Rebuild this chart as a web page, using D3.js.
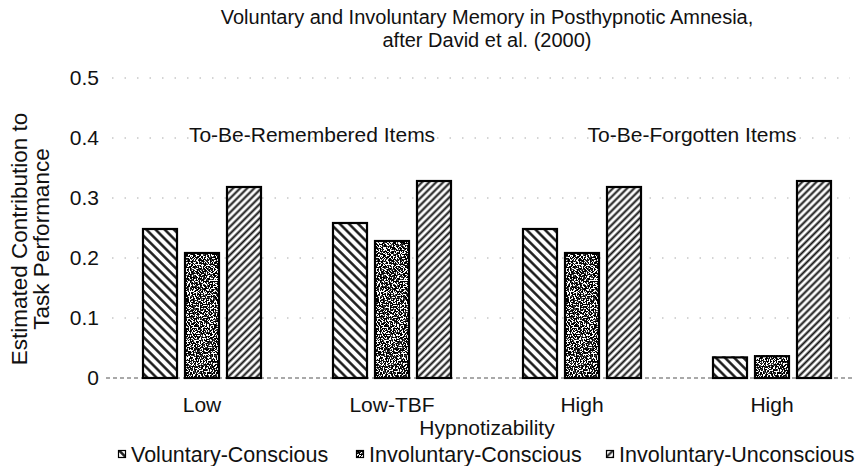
<!DOCTYPE html>
<html>
<head>
<meta charset="utf-8">
<script src="https://cdn.jsdelivr.net/npm/d3@7"></script>
<style>
  body { margin: 0; background: #fff; }
  svg { display: block; font-family: "Liberation Sans", Arial, sans-serif; }
</style>
</head>
<body>
<svg id="chart" width="862" height="466"></svg>
<script>
// data
const groups = ["Low", "Low-TBF", "High", "High "];
const groupLabels = ["Low", "Low-TBF", "High", "High"];
const series = ["Voluntary-Conscious", "Involuntary-Conscious", "Involuntary-Unconscious"];
const voluntaryConscious = [0.25, 0.26, 0.25, 0.036];
const involuntaryConscious = [0.21, 0.23, 0.21, 0.038];
const involuntaryUnconscious = [0.32, 0.33, 0.32, 0.33];
const yTicks = [0, 0.1, 0.2, 0.3, 0.4, 0.5];
const headings = ["To-Be-Remembered Items", "To-Be-Forgotten Items"];

const values = [voluntaryConscious, involuntaryConscious, involuntaryUnconscious];
const data = groups.map((g, i) => ({group: g, vals: series.map((s, j) => ({key: s, value: values[j][i]}))}));

const svg = d3.select("#chart");
const defs = svg.append("defs");

// hatch patterns
function hatch(id, angle, size, sw) {
  const p = defs.append("pattern")
    .attr("id", id)
    .attr("patternUnits", "userSpaceOnUse")
    .attr("width", size).attr("height", size)
    .attr("patternTransform", `rotate(${angle})`);
  p.append("rect").attr("width", size).attr("height", size).attr("fill", "#fff");
  p.append("line").attr("x1", size / 2).attr("x2", size / 2).attr("y1", 0).attr("y2", size)
    .attr("stroke", "#111").attr("stroke-width", sw);
}
hatch("hatchBack", -45, 6.5, 2.4);
hatch("hatchFwd", 45, 5, 2.0);

// speckle texture for the middle series
const f = defs.append("filter").attr("id", "speckle")
  .attr("x", 0).attr("y", 0).attr("width", 1).attr("height", 1)
  .attr("filterUnits", "objectBoundingBox");
f.append("feTurbulence").attr("type", "fractalNoise").attr("baseFrequency", 0.7)
  .attr("numOctaves", 2).attr("seed", 7).attr("result", "noise");
f.append("feColorMatrix").attr("in", "noise").attr("type", "matrix")
  .attr("values", "0 0 0 0 0  0 0 0 0 0  0 0 0 0 0  -6 0 0 0 3.6").attr("result", "dark");
const ct = f.append("feComponentTransfer").attr("in", "dark").attr("result", "bw");
ct.append("feFuncA").attr("type", "discrete").attr("tableValues", "0 0.75 1");
f.append("feComposite").attr("in", "bw").attr("in2", "SourceGraphic").attr("operator", "in");

const fills = {
  "Voluntary-Conscious": "url(#hatchBack)",
  "Involuntary-Conscious": "speckle",
  "Involuntary-Unconscious": "url(#hatchFwd)"
};

const x0 = d3.scaleBand().domain(groups).range([142, 832]).paddingInner(70 / 190);
const x1 = d3.scaleBand().domain(series).range([0, x0.bandwidth()]).paddingInner(6 / 42);
const y = d3.scaleLinear().domain([0, 0.5]).range([378, 78]);
const midX = (x0.range()[0] + x0.range()[1]) / 2;

// faint dotted gridlines
svg.append("g").selectAll("line")
  .data(yTicks.slice(1)).join("line")
  .attr("x1", 112).attr("x2", 850)
  .attr("y1", d => y(d)).attr("y2", d => y(d))
  .attr("stroke", "#aaa").attr("stroke-width", 1)
  .attr("stroke-dasharray", "1.5,11");

// baseline
svg.append("line")
  .attr("x1", 106).attr("x2", 852).attr("y1", y(0)).attr("y2", y(0))
  .attr("stroke", "#555").attr("stroke-width", 1.2)
  .attr("stroke-dasharray", "4,3");

// y axis labels (no axis line in the figure)
const yAxis = svg.append("g")
  .attr("transform", "translate(99,0)")
  .call(d3.axisLeft(y).tickValues(yTicks).tickSize(0).tickPadding(0)
    .tickFormat(d => d === 0 ? "0" : d3.format(".1f")(d)));
yAxis.select(".domain").remove();
yAxis.selectAll("text").attr("font-size", 21).attr("fill", "#111")
  .attr("font-family", "Liberation Sans, Arial, sans-serif");

// bars
const gGroup = svg.append("g").selectAll("g")
  .data(data).join("g")
  .attr("transform", d => `translate(${x0(d.group)},0)`);

gGroup.selectAll("rect.bg")
  .data(d => d.vals).join("rect")
  .attr("class", "bg")
  .attr("x", d => x1(d.key)).attr("width", x1.bandwidth())
  .attr("y", d => y(d.value)).attr("height", d => y(0) - y(d.value))
  .attr("fill", d => fills[d.key] === "speckle" ? "#fff" : fills[d.key]);

gGroup.selectAll("rect.sp")
  .data(d => d.vals.filter(v => fills[v.key] === "speckle")).join("rect")
  .attr("class", "sp")
  .attr("x", d => x1(d.key)).attr("width", x1.bandwidth())
  .attr("y", d => y(d.value)).attr("height", d => y(0) - y(d.value))
  .attr("fill", "#111").attr("filter", "url(#speckle)");

gGroup.selectAll("rect.edge")
  .data(d => d.vals).join("rect")
  .attr("class", "edge")
  .attr("x", d => x1(d.key) + 1).attr("width", x1.bandwidth() - 2)
  .attr("y", d => y(d.value) + 1).attr("height", d => y(0) - y(d.value) - 1)
  .attr("fill", "none").attr("stroke", "#000").attr("stroke-width", 2.2);

// group tick labels
svg.append("g").selectAll("text")
  .data(groups).join("text")
  .attr("x", d => x0(d) + x0.bandwidth() / 2).attr("y", 412)
  .attr("text-anchor", "middle").attr("font-size", 21).attr("fill", "#111")
  .text((d, i) => groupLabels[i]);

// headings over the two halves
const headX = [312, 692];
svg.append("g").selectAll("text")
  .data(headings).join("text")
  .attr("x", (d, i) => headX[i]).attr("y", 142)
  .attr("text-anchor", "middle").attr("font-size", 21).attr("fill", "#111")
  .text(d => d);

// title
svg.append("text").attr("x", midX).attr("y", 24)
  .attr("text-anchor", "middle").attr("font-size", 20).attr("fill", "#111")
  .text("Voluntary and Involuntary Memory in Posthypnotic Amnesia,");
svg.append("text").attr("x", midX).attr("y", 47)
  .attr("text-anchor", "middle").attr("font-size", 20).attr("fill", "#111")
  .text("after David et al. (2000)");

// axis titles
svg.append("text").attr("x", midX).attr("y", 435)
  .attr("text-anchor", "middle").attr("font-size", 21).attr("fill", "#111")
  .text("Hypnotizability");

const yTitle = svg.append("text")
  .attr("transform", "translate(0,239) rotate(-90)")
  .attr("text-anchor", "middle").attr("font-size", 22.5).attr("fill", "#111");
yTitle.append("tspan").attr("x", 0).attr("y", 27).text("Estimated Contribution to");
yTitle.append("tspan").attr("x", 0).attr("y", 49).text("Task Performance");

// legend
const legX = [118, 356, 606];
const leg = svg.append("g").selectAll("g")
  .data(series).join("g")
  .attr("transform", (d, i) => `translate(${legX[i]},454)`);
leg.append("rect").attr("x", 0).attr("y", -4).attr("width", 8).attr("height", 8)
  .attr("fill", d => fills[d] === "speckle" ? "#fff" : fills[d]);
leg.filter(d => fills[d] === "speckle").append("rect")
  .attr("x", 0).attr("y", -4).attr("width", 8).attr("height", 8)
  .attr("fill", "#111").attr("filter", "url(#speckle)");
leg.append("rect").attr("x", 0.5).attr("y", -3.5).attr("width", 7).attr("height", 7)
  .attr("fill", "none").attr("stroke", "#000").attr("stroke-width", 1.2);
leg.append("text").attr("x", 13).attr("y", 7.5)
  .attr("font-size", 21.5).attr("fill", "#111")
  .text(d => d);
</script>
</body>
</html>
